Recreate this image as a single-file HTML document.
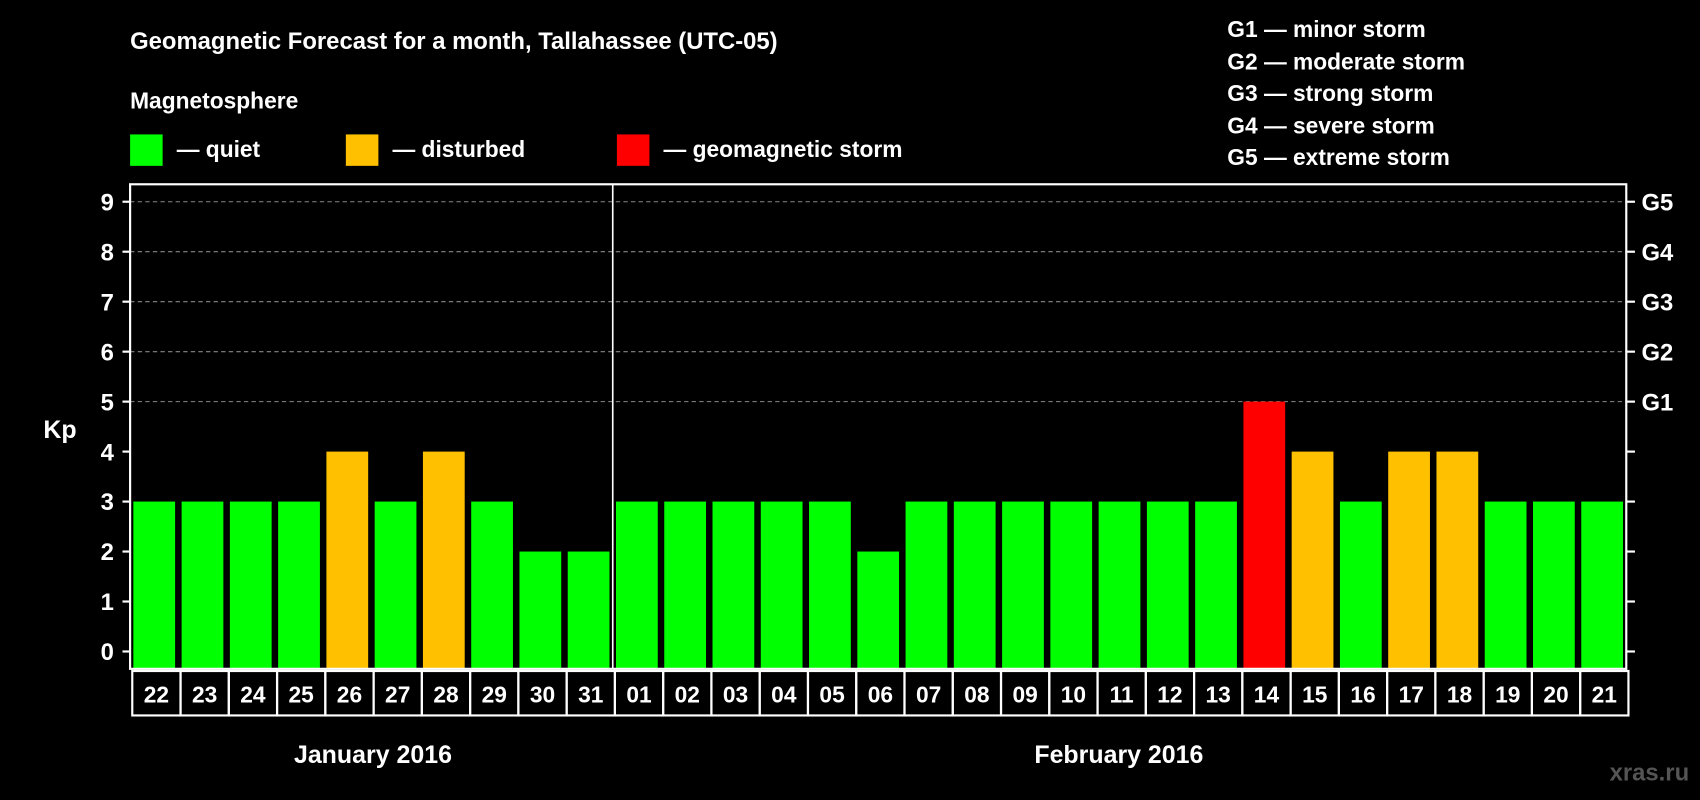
<!DOCTYPE html>
<html><head><meta charset="utf-8"><style>
html,body{margin:0;padding:0;background:#000;width:1700px;height:800px;overflow:hidden}
svg{display:block}
text{font-family:"Liberation Sans",sans-serif;font-weight:bold;fill:#fff}
</style></head><body>
<svg id="chart" width="1700" height="800" viewBox="0 0 1568 738" preserveAspectRatio="none" xmlns="http://www.w3.org/2000/svg">
<rect x="0" y="0" width="1568" height="738" fill="#000"/>
<text x="120" y="45" font-size="22">Geomagnetic Forecast for a month, Tallahassee (UTC-05)</text>
<text x="120" y="100" font-size="21">Magnetosphere</text>
<g><rect x="120" y="124" width="30" height="29" fill="#00ff00"/><text x="163" y="145" font-size="21">— quiet</text></g>
<g><rect x="319" y="124" width="30" height="29" fill="#ffc000"/><text x="362" y="145" font-size="21">— disturbed</text></g>
<g><rect x="569" y="124" width="30" height="29" fill="#ff0000"/><text x="612" y="145" font-size="21">— geomagnetic storm</text></g>
<g font-size="21">
<text x="1132" y="34">G1 — minor storm</text>
<text x="1132" y="64">G2 — moderate storm</text>
<text x="1132" y="93">G3 — strong storm</text>
<text x="1132" y="123">G4 — severe storm</text>
<text x="1132" y="152">G5 — extreme storm</text>
</g>
<text x="40" y="404" font-size="23">Kp</text>
<text x="344" y="704" font-size="23" text-anchor="middle">January 2016</text>
<text x="1032" y="704" font-size="23" text-anchor="middle">February 2016</text>
<text x="1558" y="720" font-size="22" text-anchor="end" style="fill:#555">xras.ru</text>
<g id="grid"></g><g id="bars"></g><g id="axes"></g><g id="xlabels"></g>
</svg>
<script>
const days = ["22","23","24","25","26","27","28","29","30","31","01","02","03","04","05","06","07","08","09","10","11","12","13","14","15","16","17","18","19","20","21"];
const kpValues = [3,3,3,3,4,3,4,3,2,2,3,3,3,3,3,2,3,3,3,3,3,3,3,5,4,3,4,4,3,3,3];
const yTicks = [0,1,2,3,4,5,6,7,8,9];
const gLabels = ["G1","G2","G3","G4","G5"];
const gLevels = [5,6,7,8,9];
const monthBoundary = 10;

const NS="http://www.w3.org/2000/svg";
const L=120,R=1500,T=170,B=617;
const y=v=>601-v*46.1;
const slot=(R-L)/days.length;
const x=i=>L+i*slot;
function mk(tag,attrs,parent){const e=document.createElementNS(NS,tag);for(const k in attrs)e.setAttribute(k,attrs[k]);parent.appendChild(e);return e;}
const grid=document.getElementById('grid'),bars=document.getElementById('bars'),axes=document.getElementById('axes'),xl=document.getElementById('xlabels');
gLevels.forEach((v,i)=>{
  const l=mk('line',{x1:L,x2:R,y1:y(v),y2:y(v),stroke:'#888','stroke-width':1,'stroke-dasharray':'4,3'},grid);
  
  
  const t=mk('text',{x:R+14,y:y(v)+8,'font-size':22},axes);t.textContent=gLabels[i];
  
  
});
kpValues.forEach((v,i)=>{
  const c=v>=5?'#ff0000':(v>=4?'#ffc000':'#00ff00');
  const r=mk('rect',{x:x(i)+3,y:y(v),width:slot-6,height:B-y(v),fill:c},bars);
  
  
  const b=mk('rect',{x:x(i)+2,y:619,width:slot,height:41,fill:'none',stroke:'#fff','stroke-width':2},xl);
  
  
  const t=mk('text',{x:x(i)+slot/2+2,y:648,'font-size':21,'text-anchor':'middle'},xl);t.textContent=days[i];
  
  
});
const frame=mk('rect',{x:L,y:T,width:R-L,height:B-T,fill:'none',stroke:'#fff','stroke-width':2},axes);


const sep=mk('line',{x1:x(monthBoundary),x2:x(monthBoundary),y1:T,y2:B,stroke:'#fff','stroke-width':1.5},axes);


yTicks.forEach(v=>{
  mk('line',{x1:L-7,x2:L,y1:y(v),y2:y(v),stroke:'#fff','stroke-width':2},axes);
  mk('line',{x1:R,x2:R+8,y1:y(v),y2:y(v),stroke:'#fff','stroke-width':2},axes);
  const t=mk('text',{x:105,y:y(v)+8,'font-size':22,'text-anchor':'end'},axes);t.textContent=v;
  
  
});
</script>
</body></html>
